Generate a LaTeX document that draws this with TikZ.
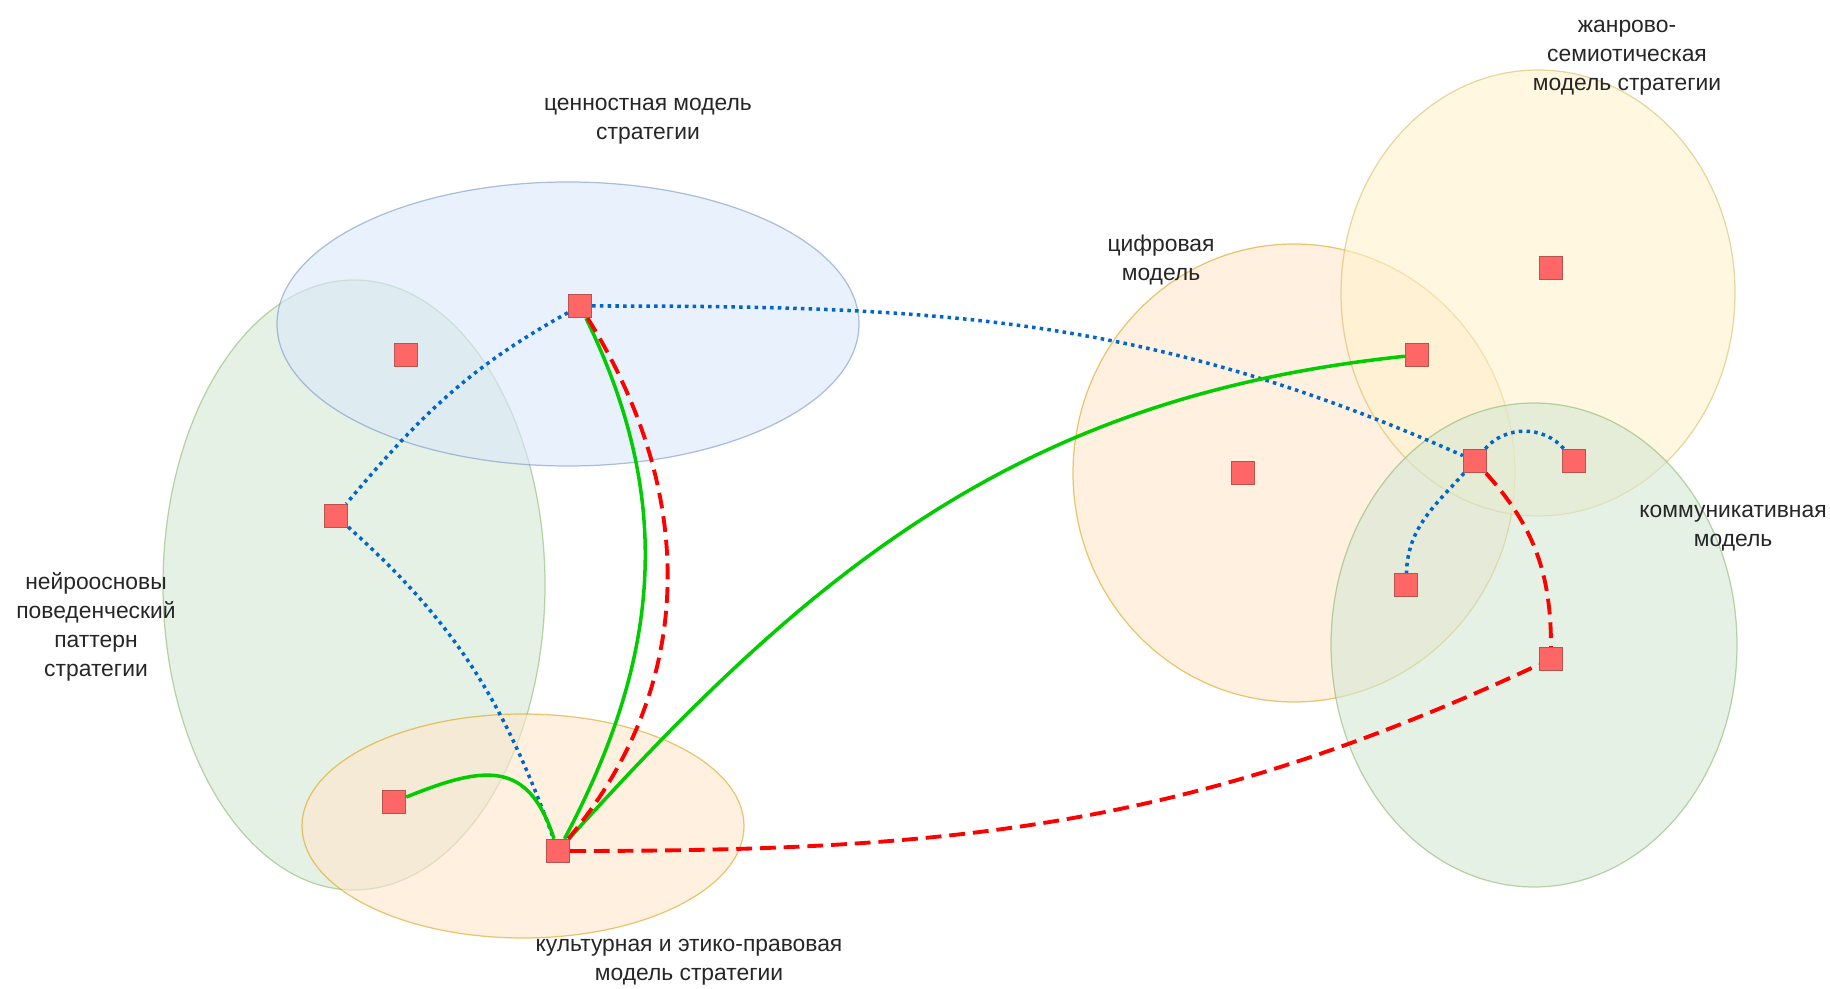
\documentclass[tikz,border=0pt]{standalone}
\usepackage{fontspec}
\setmainfont{Liberation Sans}
\usepackage{xcolor}
\usepackage{tikz}
\usetikzlibrary{positioning}
\definecolor{valfill}{HTML}{DAE8FC}
\definecolor{valdraw}{HTML}{6C8EBF}
\definecolor{neufill}{HTML}{D5E8D4}
\definecolor{neudraw}{HTML}{82B366}
\definecolor{culfill}{HTML}{FFE6CC}
\definecolor{culdraw}{HTML}{D79B00}
\definecolor{genfill}{HTML}{FFF2CC}
\definecolor{gendraw}{HTML}{D6B656}
\definecolor{sqfill}{HTML}{FF6666}
\definecolor{sqdraw}{HTML}{B85450}
\definecolor{linkblue}{HTML}{0066CC}
\definecolor{linkgreen}{HTML}{00CC00}
\definecolor{linkred}{HTML}{FF0000}

\begin{document}
\begin{tikzpicture}[x=0.2mm,y=0.2mm,
  zone/.style={line width=0.7pt,fill opacity=0.6,draw opacity=0.55},
  sq/.style={draw=sqdraw,fill=sqfill,line width=0.5pt,minimum size=4.7mm,inner sep=0pt},
  lbl/.style={font=\fontsize{13}{16.6}\selectfont,text=black!85,align=center},
  bluelink/.style={draw=linkblue,line width=2pt,dash pattern=on 2pt off 2.4pt},
  greenlink/.style={draw=linkgreen,line width=2pt},
  redlink/.style={draw=linkred,line width=2.2pt,dash pattern=on 9pt off 4.5pt}]
  \useasboundingbox (0,0) rectangle (1830,989);
  % model zones (1 unit = 1 px of the 1830x989 picture)
  \filldraw[zone,fill=neufill,draw=neudraw] (354,404)  ellipse [x radius=191,y radius=305];
  \filldraw[zone,fill=valfill,draw=valdraw] (568,665)  ellipse [x radius=291,y radius=142];
  \filldraw[zone,fill=culfill,draw=culdraw] (523,163)  ellipse [x radius=221,y radius=112];
  \filldraw[zone,fill=culfill,draw=culdraw] (1294,516) ellipse [x radius=221,y radius=229];
  \filldraw[zone,fill=genfill,draw=gendraw] (1538,696) ellipse [x radius=197,y radius=223];
  \filldraw[zone,fill=neufill,draw=neudraw] (1534,344) ellipse [x radius=203,y radius=242];
  % zone labels
  \node[lbl] (valtxt) at (648,868) {ценностная модель\\стратегии};
  \node[lbl] (gentxt) at (1627,931) {жанрово-\\семиотическая\\модель стратегии};
  \node[lbl] (digtxt) at (1161,729) {цифровая\\модель};
  \node[lbl] (comtxt) at (1733,461) {коммуникативная\\модель};
  \node[lbl] (neutxt) at (96,362) {нейроосновы\\поведенческий\\паттерн\\стратегии};
  \node[lbl] (cultxt) at (689,27) {культурная и этико-правовая\\модель стратегии};
  % strategy points
  \node[sq] (val)    at (580,683)  {};
  \node[sq] (valneu) at (406,634)  {};
  \node[sq] (neu)    at (336,473)  {};
  \node[sq] (culneu) at (394,187)  {};
  \node[sq] (cul)    at (558,138)  {};
  \node[sq] (digtop) at (1417,634) {};
  \node[sq] (gen)    at (1551,721) {};
  \node[sq] (dig)    at (1243,516) {};
  \node[sq] (com)    at (1475,528) {};
  \node[sq] (comr)   at (1574,528) {};
  \node[sq] (comdig) at (1406,404) {};
  \node[sq] (comlow) at (1551,330) {};
  % blue dotted links
  \draw[bluelink] (val) to[out=209,in=50] (neu);
  \draw[bluelink] (neu) to[out=-42,in=110] (cul);
  \draw[bluelink] (val) to[out=0,in=156] (com);
  \draw[bluelink] (com) to[out=50,in=130] (comr);
  \draw[bluelink] (com) to[out=228,in=88] (comdig);
  % green links
  \draw[greenlink] (val) to[out=-64,in=62] (cul);
  \draw[greenlink] (cul) to[out=48,in=186] (digtop);
  \draw[greenlink] (cul) to[out=108,in=22,looseness=1.4] (culneu);
  % red dashed links
  \draw[redlink] (val) to[out=-58,in=50] (cul);
  \draw[redlink] (cul) to[out=0,in=205] (comlow);
  \draw[redlink] (com) to[out=-48,in=90] (comlow);
\end{tikzpicture}
\end{document}
